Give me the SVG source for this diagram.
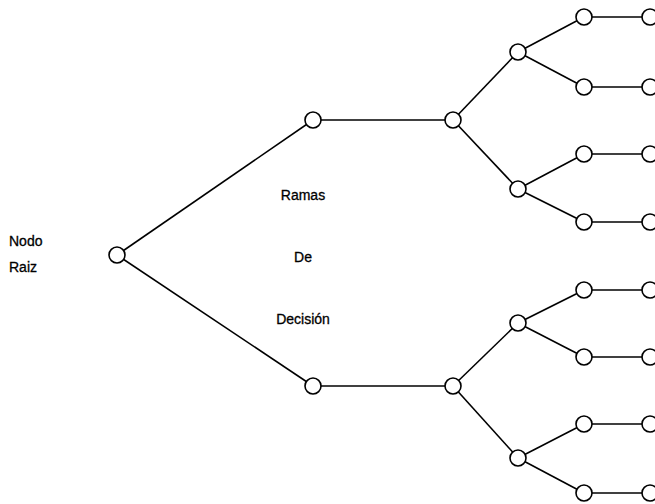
<svg xmlns="http://www.w3.org/2000/svg" width="655" height="504" viewBox="0 0 655 504">
<style>
.n{fill:#fff;stroke:#000;stroke-width:1.6}
.e{stroke:#000;stroke-width:1.6;fill:none}
.t{font-family:"Liberation Sans",Arial,sans-serif;font-size:14px;fill:#000;stroke:#000;stroke-width:0.3}
.c{text-anchor:middle}
</style>
<rect width="655" height="504" fill="#fff"/>
<g id="connectors">
<line class="e" x1="117" y1="255" x2="313" y2="120"/>
<line class="e" x1="117" y1="255" x2="313" y2="386"/>
<line class="e" x1="313" y1="120" x2="453" y2="120"/>
<line class="e" x1="313" y1="386" x2="453" y2="386"/>
<line class="e" x1="453" y1="120" x2="518" y2="52"/>
<line class="e" x1="453" y1="120" x2="518" y2="189"/>
<line class="e" x1="453" y1="386" x2="518" y2="323"/>
<line class="e" x1="453" y1="386" x2="518" y2="458"/>
<line class="e" x1="518" y1="52" x2="584" y2="17"/>
<line class="e" x1="518" y1="52" x2="584" y2="87"/>
<line class="e" x1="518" y1="189" x2="584" y2="154"/>
<line class="e" x1="518" y1="189" x2="584" y2="222"/>
<line class="e" x1="518" y1="323" x2="584" y2="290"/>
<line class="e" x1="518" y1="323" x2="584" y2="357"/>
<line class="e" x1="518" y1="458" x2="584" y2="424"/>
<line class="e" x1="518" y1="458" x2="584" y2="493"/>
<line class="e" x1="584" y1="17" x2="650" y2="17"/>
<line class="e" x1="584" y1="87" x2="650" y2="87"/>
<line class="e" x1="584" y1="154" x2="650" y2="154"/>
<line class="e" x1="584" y1="222" x2="650" y2="222"/>
<line class="e" x1="584" y1="290" x2="650" y2="290"/>
<line class="e" x1="584" y1="357" x2="650" y2="357"/>
<line class="e" x1="584" y1="424" x2="650" y2="424"/>
<line class="e" x1="584" y1="493" x2="650" y2="493"/>
</g>
<g id="root"><circle class="n" cx="117" cy="255" r="8"/></g>
<g id="a1"><circle class="n" cx="313" cy="120" r="8"/></g>
<g id="a2"><circle class="n" cx="313" cy="386" r="8"/></g>
<g id="b1"><circle class="n" cx="453" cy="120" r="8"/></g>
<g id="b2"><circle class="n" cx="453" cy="386" r="8"/></g>
<g id="c1"><circle class="n" cx="518" cy="52" r="8"/></g>
<g id="c2"><circle class="n" cx="518" cy="189" r="8"/></g>
<g id="c3"><circle class="n" cx="518" cy="323" r="8"/></g>
<g id="c4"><circle class="n" cx="518" cy="458" r="8"/></g>
<g id="d1"><circle class="n" cx="584" cy="17" r="8"/></g>
<g id="d2"><circle class="n" cx="584" cy="87" r="8"/></g>
<g id="d3"><circle class="n" cx="584" cy="154" r="8"/></g>
<g id="d4"><circle class="n" cx="584" cy="222" r="8"/></g>
<g id="d5"><circle class="n" cx="584" cy="290" r="8"/></g>
<g id="d6"><circle class="n" cx="584" cy="357" r="8"/></g>
<g id="d7"><circle class="n" cx="584" cy="424" r="8"/></g>
<g id="d8"><circle class="n" cx="584" cy="493" r="8"/></g>
<g id="e1"><circle class="n" cx="650" cy="17" r="8"/></g>
<g id="e2"><circle class="n" cx="650" cy="87" r="8"/></g>
<g id="e3"><circle class="n" cx="650" cy="154" r="8"/></g>
<g id="e4"><circle class="n" cx="650" cy="222" r="8"/></g>
<g id="e5"><circle class="n" cx="650" cy="290" r="8"/></g>
<g id="e6"><circle class="n" cx="650" cy="357" r="8"/></g>
<g id="e7"><circle class="n" cx="650" cy="424" r="8"/></g>
<g id="e8"><circle class="n" cx="650" cy="493" r="8"/></g>
<g id="labels">
<text class="t" x="9" y="246">Nodo</text>
<text class="t" x="9" y="272">Raiz</text>
<text class="t c" x="303" y="200">Ramas</text>
<text class="t c" x="303" y="262">De</text>
<text class="t c" x="303" y="324">Decisión</text>
</g>
</svg>
